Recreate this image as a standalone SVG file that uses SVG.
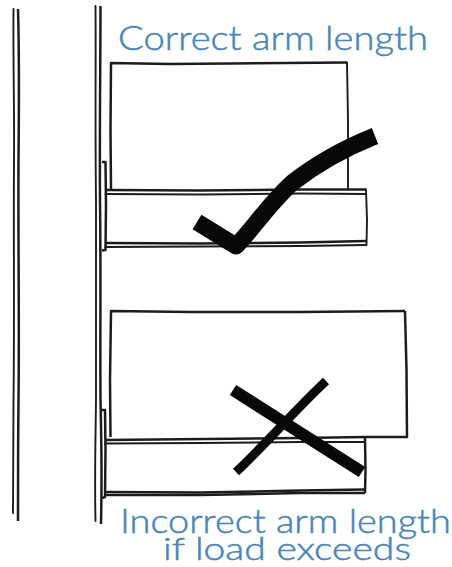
<svg xmlns="http://www.w3.org/2000/svg" width="452" height="567" viewBox="0 0 452 567">
<style>
.l{fill:none;stroke:#1c1c1c;stroke-width:1.9;stroke-linecap:round;stroke-linejoin:round}
.h{fill:none;stroke:#1c1c1c;stroke-width:2.5;stroke-linecap:butt;stroke-linejoin:round}
.m{fill:none;stroke:#080808;stroke-linejoin:round}
.t{font-family:"Lato","Open Sans",sans-serif;font-weight:300;font-size:33px;fill:#4a86b8;stroke:#4a86b8;stroke-width:.5}
</style>
<rect width="452" height="567" fill="#fff"/>
<g id="walls">
<path class="l" d="M13.500 9C13 60 14.500 110 14 160C13.500 240 14.500 320 13.500 400C13 440 13.500 480 13 513"/>
<path class="h" d="M18 9C19.500 60 19 110 18.500 160C18 240 19.500 320 18.500 400C18 440 18 490 18 521"/>
<path class="l" d="M95.500 6C96 60 95 120 96 200C96.500 280 95.500 340 96 400C95.500 440 94.500 480 95.500 521"/>
<path class="h" d="M100.500 6C100.500 60 99.500 120 100 200C101 280 100 330 100.500 400C101.500 440 102 480 101 524"/>
</g>
<g id="upper-arm">
<path class="h" d="M111 190L110.500 130L111 63L170 64L230 63.500L347 62.500"/>
<path class="l" d="M347 62.500L348 120L348 189"/>
<path class="h" d="M102 162L105.500 162L106 205L105.500 250L102 250.500"/>
<path class="h" d="M105.500 190L200 190.500L300 189.500L366 189.500"/>
<path class="l" d="M105.500 194L200 194.500L300 193.500L366 194"/>
<path class="l" d="M366 189.500L367 220L366.500 245"/>
<path class="h" d="M105.500 243L200 243.500L300 242.500L366 241"/>
<path class="l" d="M105.500 247L200 246.500L300 246L366 245"/>
</g>
<g id="lower-arm">
<path class="h" d="M110.500 437L110 380L111 311L190 312L300 312L405 311"/>
<path class="h" d="M405 311L406.500 370L407 437L366 437"/>
<path class="h" d="M366 437L300 438L105 440"/>
<path class="l" d="M105 443.500L200 443L300 442L365 442"/>
<path class="h" d="M365 437.500L365.500 470L365 493"/>
<path class="h" d="M102 410L105 410L105.500 450L105 497L102 498"/>
<path class="h" d="M105 492L200 492.500L300 490.500L365 489.500"/>
<path class="h" d="M105 495L200 495L300 493L365 493"/>
</g>
<g id="check">
<path class="m" stroke-width="17" stroke-linecap="butt" d="M197 222L236 246C252 230 268 205 292 183C315 165 340 150 375 136"/>
</g>
<g id="cross">
<path class="m" stroke-width="12" stroke-linecap="butt" d="M233 390L362 472"/>
<path class="m" stroke-width="9" stroke-linecap="butt" d="M236 472C260 450 295 410 326 381"/>
</g>
<text class="t" x="118" y="50" textLength="310" lengthAdjust="spacingAndGlyphs">Correct arm length</text>
<text class="t"><tspan x="120" y="533" textLength="331" lengthAdjust="spacingAndGlyphs">Incorrect arm length</tspan><tspan x="163" y="560" font-size="31" textLength="248" lengthAdjust="spacingAndGlyphs">if load exceeds</tspan></text>
</svg>
